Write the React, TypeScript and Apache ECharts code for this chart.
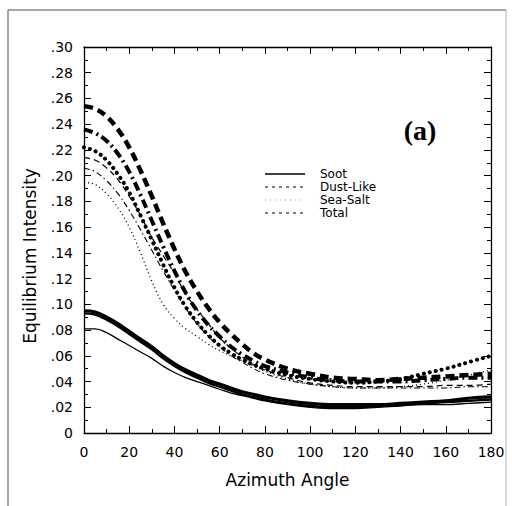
import React, { useEffect, useRef } from "react";
import * as echarts from "echarts";

const angles = [0, 5, 10, 15, 20, 25, 30, 35, 40, 45, 50, 55, 60, 65, 70, 75, 80, 90, 100, 110, 120, 130, 140, 150, 160, 170, 180];

const totalHeavyDashed = [0.254, 0.252, 0.246, 0.236, 0.222, 0.204, 0.184, 0.163, 0.143, 0.125, 0.110, 0.097, 0.086, 0.077, 0.069, 0.062, 0.057, 0.050, 0.046, 0.043, 0.042, 0.041, 0.042, 0.043, 0.044, 0.045, 0.046];
const dustHeavyDashDot = [0.236, 0.233, 0.227, 0.217, 0.203, 0.185, 0.165, 0.145, 0.126, 0.109, 0.095, 0.084, 0.075, 0.067, 0.061, 0.056, 0.052, 0.047, 0.043, 0.041, 0.040, 0.040, 0.040, 0.041, 0.042, 0.043, 0.043];
const seaSaltHeavyDotted = [0.222, 0.219, 0.212, 0.201, 0.187, 0.169, 0.150, 0.131, 0.113, 0.098, 0.086, 0.076, 0.068, 0.062, 0.057, 0.053, 0.050, 0.045, 0.042, 0.040, 0.039, 0.040, 0.042, 0.046, 0.050, 0.055, 0.060];
const totalThinDashed = [0.214, 0.212, 0.206, 0.197, 0.184, 0.169, 0.152, 0.138, 0.124, 0.108, 0.096, 0.085, 0.074, 0.066, 0.059, 0.053, 0.049, 0.043, 0.039, 0.037, 0.036, 0.036, 0.036, 0.036, 0.037, 0.037, 0.038];
const dustThinDashDot = [0.206, 0.203, 0.196, 0.186, 0.173, 0.158, 0.142, 0.126, 0.111, 0.097, 0.085, 0.075, 0.067, 0.060, 0.055, 0.050, 0.046, 0.041, 0.038, 0.036, 0.035, 0.035, 0.035, 0.035, 0.035, 0.036, 0.036];
const seaSaltThinDotted = [0.195, 0.193, 0.186, 0.175, 0.160, 0.140, 0.118, 0.100, 0.089, 0.081, 0.075, 0.069, 0.064, 0.060, 0.056, 0.052, 0.048, 0.042, 0.038, 0.036, 0.035, 0.035, 0.036, 0.038, 0.041, 0.045, 0.049];
const sootThick1 = [0.095, 0.094, 0.090, 0.085, 0.079, 0.073, 0.067, 0.060, 0.054, 0.049, 0.045, 0.041, 0.038, 0.035, 0.032, 0.030, 0.028, 0.025, 0.023, 0.022, 0.022, 0.022, 0.023, 0.024, 0.025, 0.027, 0.028];
const sootThick2 = [0.093, 0.092, 0.088, 0.083, 0.077, 0.071, 0.065, 0.058, 0.052, 0.047, 0.043, 0.039, 0.036, 0.033, 0.030, 0.028, 0.026, 0.023, 0.021, 0.020, 0.020, 0.021, 0.022, 0.023, 0.024, 0.025, 0.026];
const sootThin = [0.081, 0.081, 0.078, 0.073, 0.068, 0.063, 0.058, 0.052, 0.047, 0.043, 0.040, 0.037, 0.034, 0.031, 0.029, 0.027, 0.025, 0.022, 0.020, 0.019, 0.019, 0.020, 0.021, 0.022, 0.022, 0.023, 0.024];

const xTicks = [0, 180, 20];
const yTicks = [0, 0.3, 0.02];
const legendNames = ["Soot", "Dust-Like", "Sea-Salt", "Total"];

const FONT = "DejaVu Sans";

function pts(vals: number[]) {
  return angles.map((a, i) => [a, vals[i]]);
}

export default function App() {
  const ref = useRef<HTMLDivElement>(null);
  useEffect(() => {
    if (!ref.current) return;
    const chart = echarts.init(ref.current, null, { renderer: "svg" });
    const mk = (name: string, vals: number[], width: number, type: any, cap: any = "butt", color = "#000") => ({
      name,
      type: "line",
      data: pts(vals),
      smooth: 0.4,
      showSymbol: false,
      symbol: "none",
      lineStyle: { color, width, type, cap },
      z: 3,
    });
    const axisCommon = () => ({
      axisLine: { show: true, onZero: false, lineStyle: { color: "#000", width: 1.3 } },
      axisTick: { show: true, inside: true, length: 7, lineStyle: { color: "#000", width: 1 } },
      minorTick: { show: true, splitNumber: 2, length: 4, lineStyle: { color: "#000", width: 1 } },
      splitLine: { show: false },
    });
    const legendY = [174, 187, 200, 213];
    const legendStyles: any[] = [
      { stroke: "#000", lineWidth: 1.6 },
      { stroke: "#000", lineWidth: 1, lineDash: [3, 4] },
      { stroke: "#999", lineWidth: 1, lineDash: [1, 4] },
      { stroke: "#000", lineWidth: 1, lineDash: [3, 4] },
    ];
    const graphics: any[] = [
      { type: "line", shape: { x1: 8, y1: 10, x2: 506, y2: 10 }, style: { stroke: "#8a8a8a", lineWidth: 1.5 } },
      { type: "line", shape: { x1: 8, y1: 10, x2: 8, y2: 506 }, style: { stroke: "#8a8a8a", lineWidth: 1.5 } },
      { type: "line", shape: { x1: 506, y1: 10, x2: 506, y2: 506 }, style: { stroke: "#b0b0b0", lineWidth: 1 } },
      {
        type: "text", x: 30, y: 256, rotation: Math.PI / 2,
        style: { text: "Equilibrium Intensity", font: `17px '${FONT}'`, fill: "#000", align: "center", verticalAlign: "middle" },
      },
      {
        type: "text", x: 420, y: 130,
        style: { text: "(a)", font: "bold 28px 'Liberation Serif'", fill: "#000", align: "center", verticalAlign: "middle" },
      },
    ];
    legendNames.forEach((n, i) => {
      graphics.push({ type: "line", shape: { x1: 265, y1: legendY[i], x2: 305, y2: legendY[i] }, style: legendStyles[i] });
      graphics.push({
        type: "text", x: 320, y: legendY[i],
        style: { text: n, font: `12px '${FONT}'`, fill: "#000", align: "left", verticalAlign: "middle" },
      });
    });
    chart.setOption({
      animation: false,
      backgroundColor: "#fff",
      grid: { left: 84, right: 21, top: 47, bottom: 73, containLabel: false },
      xAxis: [
        {
          type: "value", min: xTicks[0], max: xTicks[1], interval: xTicks[2], position: "bottom",
          name: "Azimuth Angle", nameLocation: "middle", nameGap: 38,
          nameTextStyle: { fontFamily: FONT, fontSize: 17, color: "#000" },
          axisLabel: { fontFamily: FONT, fontSize: 14, color: "#000", margin: 12 },
          ...axisCommon(),
        },
        {
          type: "value", min: xTicks[0], max: xTicks[1], interval: xTicks[2], position: "top",
          axisLabel: { show: false },
          ...axisCommon(),
        },
      ],
      yAxis: [
        {
          type: "value", min: yTicks[0], max: yTicks[1], interval: yTicks[2], position: "left",
          axisLabel: {
            fontFamily: FONT, fontSize: 14, color: "#000", margin: 11,
            formatter: (v: number) => (v === 0 ? "0" : "." + String(Math.round(v * 100)).padStart(2, "0")),
          },
          ...axisCommon(),
        },
        {
          type: "value", min: yTicks[0], max: yTicks[1], interval: yTicks[2], position: "right",
          axisLabel: { show: false },
          ...axisCommon(),
        },
      ],
      graphic: graphics,
      series: [
        mk("Total (heavy)", totalHeavyDashed, 4.5, [9, 5]),
        mk("Dust-Like (heavy)", dustHeavyDashDot, 4, [9, 4, 2, 4]),
        mk("Sea-Salt (heavy)", seaSaltHeavyDotted, 4, [0.1, 6], "round"),
        mk("Total (thin)", totalThinDashed, 1.2, [6, 4]),
        mk("Dust-Like (thin)", dustThinDashDot, 1.1, [6, 3, 1.5, 3]),
        mk("Sea-Salt (thin)", seaSaltThinDotted, 1.3, [1, 3]),
        mk("Soot 1", sootThick1, 3.2, "solid"),
        mk("Soot 2", sootThick2, 2.4, "solid"),
        mk("Soot 3", sootThin, 1.3, "solid"),
      ],
    });
    return () => chart.dispose();
  }, []);
  return <div ref={ref} style={{ position: "absolute", left: 0, top: 0, width: 512, height: 506 }} />;
}
